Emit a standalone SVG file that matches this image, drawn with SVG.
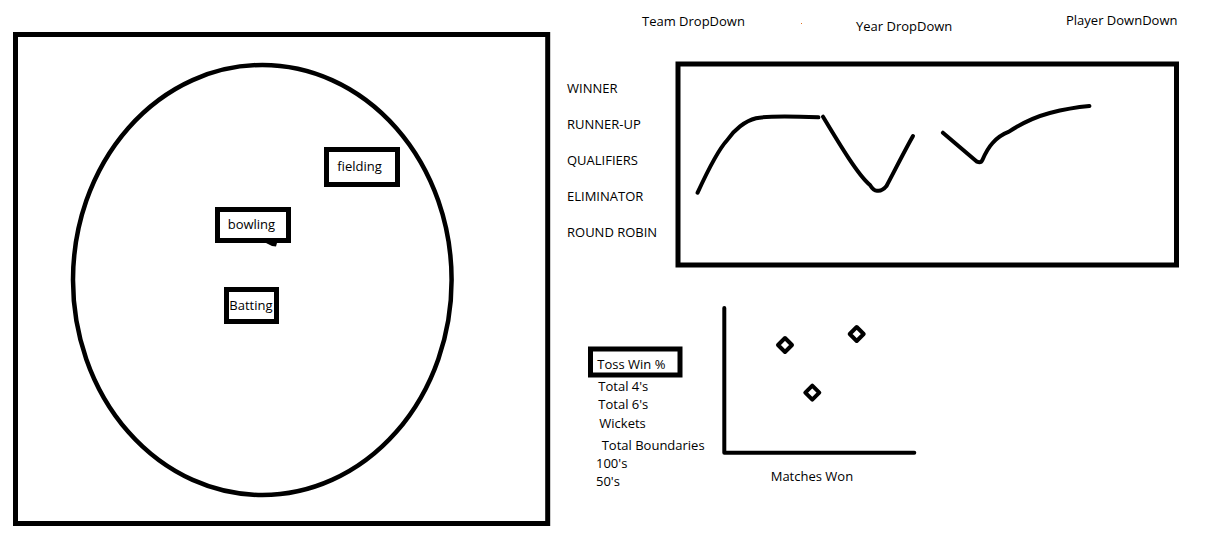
<svg xmlns="http://www.w3.org/2000/svg" width="1209" height="536" viewBox="0 0 1209 536">
<style>
text{font-family:"Open Sans","Noto Sans",sans-serif;font-size:13px;fill:#000}
.box{fill:none;stroke:#000;stroke-width:5}
.ln{fill:none;stroke:#000;stroke-width:4;stroke-linecap:round;stroke-linejoin:round}
</style>
<rect width="1209" height="536" fill="#fff"/>
<g id="field-panel">
<rect class="box" x="15.5" y="34.5" width="532.2" height="489"/>
<ellipse cx="262.3" cy="280" rx="189.3" ry="215" fill="none" stroke="#000" stroke-width="4.5"/>
</g>
<g id="fielding">
<rect class="box" x="326.5" y="149.5" width="71" height="35"/>
<text x="337.3" y="171">fielding</text>
</g>
<g id="bowling">
<rect class="box" x="217.5" y="209.5" width="71" height="31"/>
<path d="M266,243 L277,243 L276,246.5 L272,246 Z" fill="#000"/>
<text x="227.7" y="229.3">bowling</text>
</g>
<g id="batting">
<rect class="box" x="226.5" y="289.5" width="50" height="32"/>
<text x="229.3" y="310">Batting</text>
</g>
<g id="dropdowns">
<text x="642" y="26">Team DropDown</text>
<rect x="801" y="23" width="1" height="1" fill="#e07020"/>
<text x="856" y="31">Year DropDown</text>
<text x="1066" y="25">Player DownDown</text>
</g>
<g id="stage-labels">
<text x="567" y="93">WINNER</text>
<text x="567" y="129">RUNNER-UP</text>
<text x="567" y="165">QUALIFIERS</text>
<text x="567" y="201">ELIMINATOR</text>
<text x="567" y="237">ROUND ROBIN</text>
</g>
<g id="stage-chart">
<rect class="box" x="678" y="64" width="498.5" height="201" stroke-width="4.5"/>
<g id="connectors">
<path class="ln" d="M697.6,192.7 C708,170 718,150 727.3,140 C734,130 745,121 756,118.3 C766,116 790,116 818.4,117.3"/>
<path class="ln" d="M823,116.7 C840,145 858,175 870,185 C873,190 876,191 877.6,190.7 C880,191 884,189 886.5,186 C895,170 905,150 913,136"/>
<path class="ln" d="M942.9,132.7 L977,161.7 C980,163 981.5,162 982.4,160 C985,154 988,148 992.6,143 C998,137 1003,134 1009,131.7 C1022,123 1035,117 1049.8,113 C1065,109 1078,107 1089.4,106"/>
</g>
</g>
<g id="metric-labels">
<rect class="box" x="590.5" y="349" width="89.5" height="26" stroke-width="4.7"/>
<text x="597.3" y="368.5">Toss Win %</text>
<text x="598.3" y="390.7">Total 4's</text>
<text x="598.3" y="409">Total 6's</text>
<text x="599.3" y="427.7">Wickets</text>
<text x="601.7" y="450">Total Boundaries</text>
<text x="596" y="467.7">100's</text>
<text x="596" y="485.7">50's</text>
</g>
<g id="scatter">
<path class="ln" d="M724.3,308 L724.3,452.7 L914.3,452.7"/>
<path class="ln" d="M785,338 L792,345 L785,352 L778,345 Z"/>
<path class="ln" d="M856.7,327 L863.7,334 L856.7,341 L849.7,334 Z"/>
<path class="ln" d="M812.3,385.7 L819.3,392.7 L812.3,399.7 L805.3,392.7 Z"/>
<text x="770.7" y="481">Matches Won</text>
</g>
</svg>
